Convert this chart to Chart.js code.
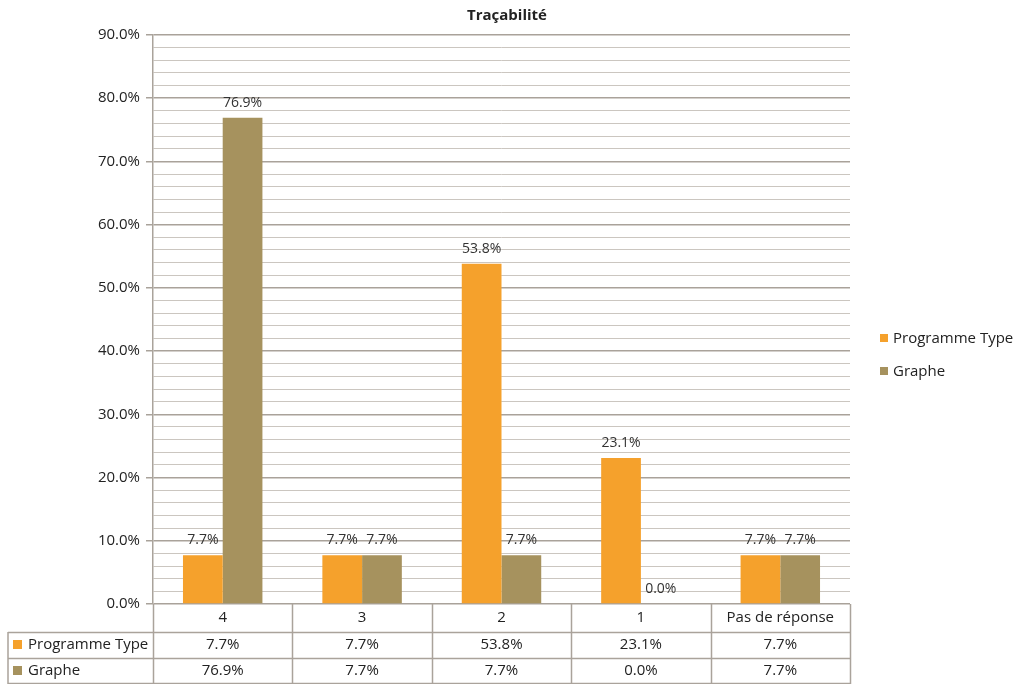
<!DOCTYPE html>
<html>
<head>
<meta charset="utf-8">
<script src="https://cdn.jsdelivr.net/npm/chart.js@4"></script>
<style>
  html, body { margin: 0; padding: 0; background: #fff; }
  #wrap { width: 1014px; height: 684px; }
</style>
</head>
<body>
<div id="wrap"><canvas id="myChart" width="1014" height="684"></canvas></div>
<script>
var categories = ["4", "3", "2", "1", "Pas de réponse"],
  programmeType = [7.7, 7.7, 53.8, 23.1, 7.7],
  graphe = [76.9, 7.7, 7.7, 0.0, 7.7],
  seriesNames = ["Programme Type", "Graphe"],
  chartTitle = "Traçabilité",
  colors = ["#f5a12c", "#a6925e"],
  font = "'Open Sans', 'Liberation Sans', sans-serif",
  lineColor = "#aaa39b";

function pct(v) {
  return v.toFixed(1) + "%";
}

// title, value labels above bars, data table under the axis, legend on the right
var extras = {
  id: "extras",
  afterDatasetsDraw: function(chart) {
    var c = chart.ctx;
    c.save();
    c.fillStyle = "#333";
    c.font = "14px " + font;
    c.textAlign = "center";
    c.textBaseline = "bottom";
    chart.data.datasets.forEach(function(ds, i) {
      chart.getDatasetMeta(i).data.forEach(function(bar, j) {
        c.fillText(pct(ds.data[j]), bar.x, bar.y - 8);
      });
    });
    c.restore();
  },
  afterDraw: function(chart) {
    var c = chart.ctx,
      area = chart.chartArea,
      x = chart.scales.x,
      top = area.bottom,
      rows = [top, top + 28, top + 54, top + 80],
      left = 8,
      n = categories.length,
      step = (area.right - area.left) / n;
    c.save();

    c.fillStyle = "#222";
    c.font = "bold 15px " + font;
    c.textAlign = "center";
    c.textBaseline = "middle";
    c.fillText(chartTitle, chart.width / 2, 16);

    c.strokeStyle = lineColor;
    c.lineWidth = 1.5;
    c.beginPath();
    for (var i = 0; i <= n; i++) {
      var bx = Math.round(area.left + i * step) + 0.5;
      c.moveTo(bx, rows[0]);
      c.lineTo(bx, rows[3]);
    }
    c.moveTo(left, rows[1]);
    c.lineTo(left, rows[3]);
    c.moveTo(left, rows[1] + 0.5);
    c.lineTo(area.right, rows[1] + 0.5);
    c.moveTo(left, rows[2] + 0.5);
    c.lineTo(area.right, rows[2] + 0.5);
    c.moveTo(left, rows[3] - 0.5);
    c.lineTo(area.right, rows[3] - 0.5);
    c.stroke();

    c.fillStyle = "#222";
    c.font = "15px " + font;
    categories.forEach(function(cat, j) {
      var cx = x.getPixelForValue(j);
      c.fillText(cat, cx, (rows[0] + rows[1]) / 2);
      c.fillText(pct(programmeType[j]), cx, (rows[1] + rows[2]) / 2);
      c.fillText(pct(graphe[j]), cx, (rows[2] + rows[3]) / 2);
    });
    c.textAlign = "left";
    seriesNames.forEach(function(name, k) {
      var cy = (rows[k + 1] + rows[k + 2]) / 2;
      c.fillStyle = colors[k];
      c.fillRect(13, cy - 5, 9, 9);
      c.fillStyle = "#222";
      c.fillText(name, 28, cy);
    });

    // legend
    seriesNames.forEach(function(name, k) {
      var cy = 339 + k * 33;
      c.fillStyle = colors[k];
      c.fillRect(880, cy - 5, 8, 8);
      c.fillStyle = "#222";
      c.fillText(name, 893, cy);
    });
    c.restore();
  }
};

var ctx = document.getElementById("myChart"),
  config = {
    type: "bar",
    data: {
      labels: categories,
      datasets: [
        { label: seriesNames[0], data: programmeType, backgroundColor: colors[0] },
        { label: seriesNames[1], data: graphe, backgroundColor: colors[1] }
      ]
    },
    options: {
      responsive: false,
      animation: false,
      devicePixelRatio: 1,
      layout: { padding: { left: 0, right: 164, top: 35, bottom: 0 } },
      datasets: { bar: { categoryPercentage: 0.57, barPercentage: 1 } },
      plugins: {
        legend: { display: false },
        tooltip: { enabled: false },
        title: { display: false }
      },
      scales: {
        x: {
          grid: { display: false },
          border: { display: false },
          ticks: { display: false },
          afterFit: function(s) { s.height = 80; }
        },
        y: {
          min: 0,
          max: 90,
          afterFit: function(s) { s.width = 153; },
          border: { color: lineColor, width: 1.5 },
          grid: {
            color: function(c) { return c.tick.value % 10 === 0 ? "#a9a29a" : "#cbc6c0"; },
            lineWidth: function(c) { return c.tick.value % 10 === 0 ? 1.5 : 1; },
            tickColor: function(c) { return c.tick.value % 10 === 0 ? "#a9a29a" : "rgba(0,0,0,0)"; },
            tickLength: 7
          },
          ticks: {
            stepSize: 2,
            autoSkip: false,
            padding: 6,
            color: "#222",
            font: { family: font, size: 15 },
            callback: function(v) { return v % 10 === 0 ? v.toFixed(1) + "%" : ""; }
          }
        }
      }
    },
    plugins: [extras]
  };

myChart = new Chart(ctx, config);
</script>
</body>
</html>
